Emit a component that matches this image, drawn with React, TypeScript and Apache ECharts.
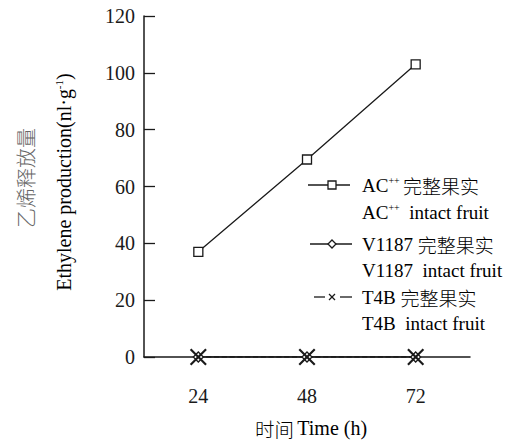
import React, { useEffect, useRef } from "react";
import * as echarts from "echarts";

const categories = ["24", "48", "72"];
const acValues = [37, 69.5, 103];
const v1187Values = [0, 0, 0];
const t4bValues = [0, 0, 0];
const yTicks = { min: 0, max: 120, interval: 20 };

const SERIF = "'Liberation Serif', 'Times New Roman', serif";
const CJK = "'Noto Sans CJK SC', serif";
const X_PATH =
  "path://M0,0.9L0.9,0L5,4.1L9.1,0L10,0.9L5.9,5L10,9.1L9.1,10L5,5.9L0.9,10L0,9.1L4.1,5Z";

export default function App() {
  const ref = useRef<HTMLDivElement>(null);
  useEffect(() => {
    if (!ref.current) return;
    const chart = echarts.init(ref.current, null, { renderer: "svg" });
    const txt = "#1a1a1a";
    const gray = "#666";
    const fs = 20;
    const rich = {
      n: { fontFamily: SERIF, fontSize: 19, color: txt },
      s: { fontFamily: SERIF, fontSize: 10, color: txt, padding: [0, 0, 9, 0] },
      c: { fontFamily: CJK, fontSize: 19, color: gray, fontWeight: 300 },
      ny: { fontFamily: SERIF, fontSize: 20, color: txt },
      sy: { fontFamily: SERIF, fontSize: 11, color: txt, padding: [0, 0, 10, 0] },
      nx: { fontFamily: SERIF, fontSize: 20, color: txt },
      cx: { fontFamily: CJK, fontSize: 19.5, color: gray, fontWeight: 300 },
    };
    const legendTexts = [
      { y: 185, text: "{n|AC}{s|++} {c|完整果实}" },
      { y: 212, text: "{n|AC}{s|++}{n|  intact fruit}" },
      { y: 244, text: "{n|V1187 }{c|完整果实}" },
      { y: 270, text: "{n|V1187  intact fruit}" },
      { y: 297, text: "{n|T4B }{c|完整果实}" },
      { y: 323, text: "{n|T4B  intact fruit}" },
    ];
    const graphic: any[] = [];
    legendTexts.forEach((t) =>
      graphic.push({
        type: "text",
        x: 362,
        y: t.y,
        style: {
          text: t.text,
          rich,
          verticalAlign: "middle",
          align: "left",
        },
      })
    );
    // legend icons
    graphic.push(
      { type: "line", shape: { x1: 308, y1: 185, x2: 350, y2: 185 }, style: { stroke: txt, lineWidth: 1.3 } },
      { type: "rect", shape: { x: 328, y: 181, width: 8, height: 8 }, style: { fill: "#fff", stroke: txt, lineWidth: 1.3 } },
      { type: "line", shape: { x1: 310, y1: 244, x2: 352, y2: 244 }, style: { stroke: txt, lineWidth: 1.3 } },
      { type: "polygon", shape: { points: [[332, 240], [336, 244], [332, 248], [328, 244]] }, style: { fill: "#fff", stroke: txt, lineWidth: 1.3 } },
      { type: "line", shape: { x1: 314, y1: 297, x2: 325, y2: 297 }, style: { stroke: txt, lineWidth: 1.3 } },
      { type: "line", shape: { x1: 340, y1: 297, x2: 352, y2: 297 }, style: { stroke: txt, lineWidth: 1.3 } },
      { type: "line", shape: { x1: 329, y1: 294, x2: 335, y2: 300 }, style: { stroke: txt, lineWidth: 1.3 } },
      { type: "line", shape: { x1: 335, y1: 294, x2: 329, y2: 300 }, style: { stroke: txt, lineWidth: 1.3 } }
    );
    // y axis name (two rotated lines) and x axis name
    graphic.push(
      {
        type: "text",
        x: 25,
        y: 178,
        rotation: Math.PI / 2,
        style: { text: "乙烯释放量", font: `300 20px ${CJK}`, fill: gray, align: "center", verticalAlign: "middle" },
      },
      {
        type: "text",
        x: 64,
        y: 182,
        rotation: Math.PI / 2,
        style: {
          text: "{ny|Ethylene production(nl·g}{sy|-1}{ny|)}",
          rich,
          align: "center",
          verticalAlign: "middle",
        },
      },
      {
        type: "text",
        x: 311,
        y: 428,
        style: {
          text: "{cx|时间} {nx|Time (h)}",
          rich,
          align: "center",
          verticalAlign: "middle",
        },
      }
    );

    chart.setOption({
      animation: false,
      backgroundColor: "#fff",
      grid: { left: 144, right: 39, top: 16, bottom: 85 },
      xAxis: {
        type: "category",
        data: categories,
        boundaryGap: true,
        axisLine: { lineStyle: { color: txt, width: 1.5 } },
        axisTick: { inside: true, length: 6, lineStyle: { color: txt, width: 1.3 } },
        axisLabel: { margin: 29, fontFamily: SERIF, fontSize: fs, color: txt },
      },
      yAxis: {
        type: "value",
        min: yTicks.min,
        max: yTicks.max,
        interval: yTicks.interval,
        splitLine: { show: false },
        axisLine: { show: true, lineStyle: { color: txt, width: 1.5 } },
        axisTick: { show: true, inside: true, length: 11, lineStyle: { color: txt, width: 1.3 } },
        axisLabel: { margin: 9, fontFamily: SERIF, fontSize: fs, color: txt },
      },
      graphic,
      series: [
        {
          name: "AC++",
          type: "line",
          data: acValues,
          symbol: "rect",
          symbolSize: 9,
          lineStyle: { color: txt, width: 1.3 },
          itemStyle: { color: "#fff", borderColor: txt, borderWidth: 1.3 },
        },
        {
          name: "V1187",
          type: "line",
          data: v1187Values,
          symbol: "diamond",
          symbolSize: 10,
          lineStyle: { color: txt, width: 1.3 },
          itemStyle: { color: "#fff", borderColor: txt, borderWidth: 1.3 },
        },
        {
          name: "T4B",
          type: "line",
          data: t4bValues,
          symbol: X_PATH,
          symbolSize: 17,
          lineStyle: { color: txt, width: 1.3, type: "dashed" },
          itemStyle: { color: txt },
        },
      ],
    });
    return () => chart.dispose();
  }, []);
  return <div ref={ref} style={{ width: 509, height: 442, position: "absolute", left: 0, top: 0 }} />;
}
